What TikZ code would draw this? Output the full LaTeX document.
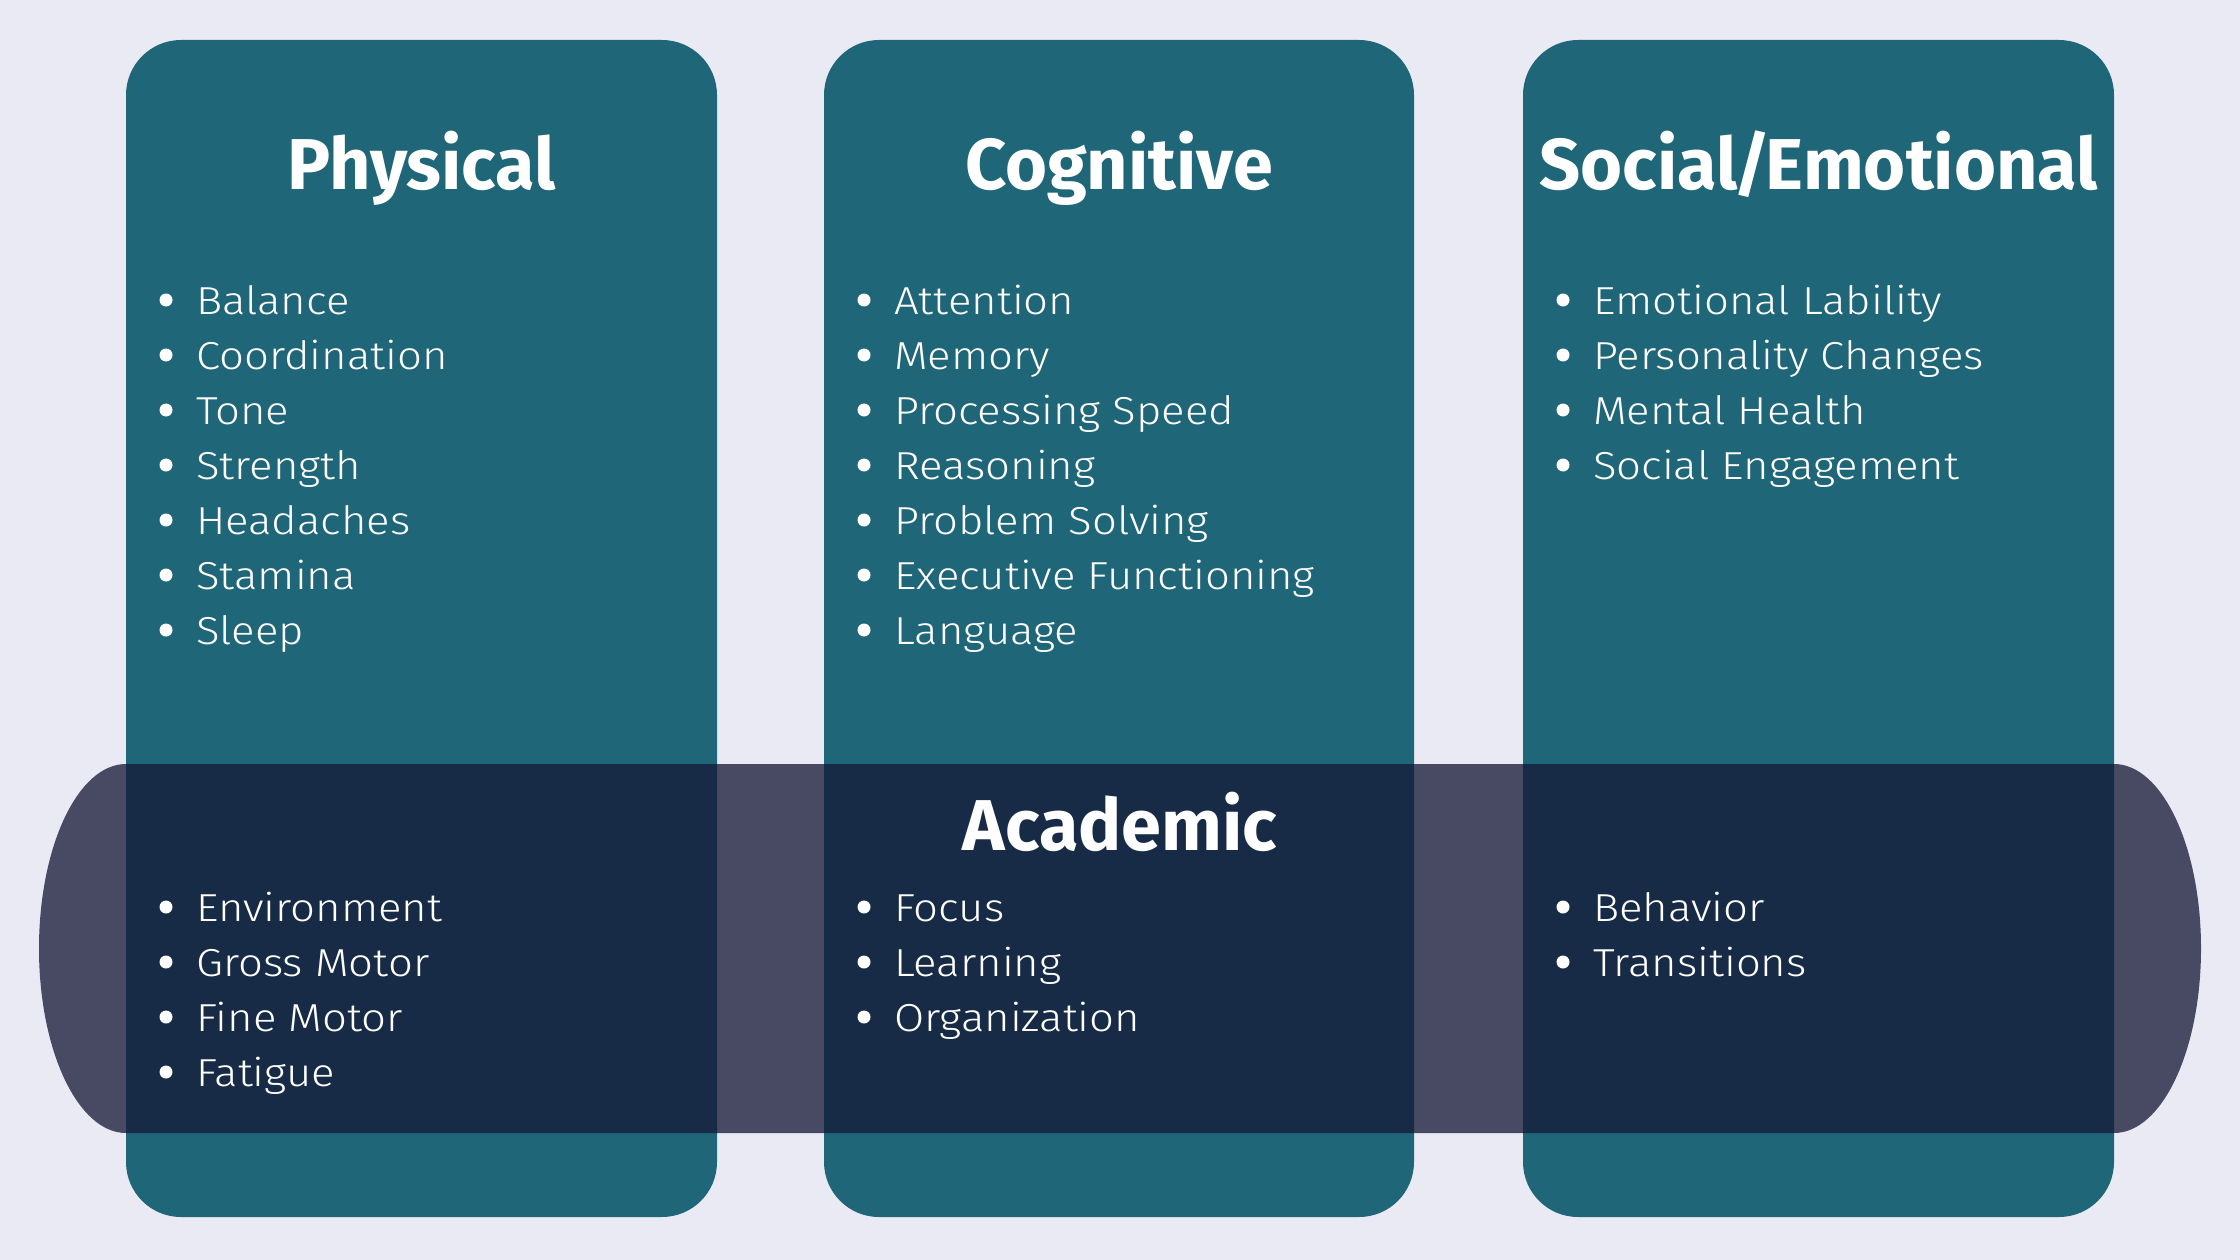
\documentclass[tikz,border=0pt]{standalone}
\usepackage{fontspec}
\setmainfont{Fira Sans}
\newfontfamily\itemfont{Fira Sans Light}[FakeStretch=1.12]
\definecolor{bgc}{RGB}{234,234,245}
\definecolor{tealc}{RGB}{31,102,121}
\definecolor{bandc}{RGB}{22,26,55}
\tikzset{
  colbox/.style={fill=tealc, draw=none, rounded corners=55pt},
  band/.style={fill=bandc, fill opacity=0.77, draw=none},
  title/.style={text=white, font=\bfseries\fontsize{72}{80}\selectfont, anchor=base, inner sep=0pt},
  item/.style={text=white, font=\itemfont\fontsize{39}{46}\selectfont, anchor=base west, inner sep=0pt},
  dot/.style={fill=white}
}
\newcommand{\itemlist}[4]{%
  \foreach \t [count=\i from 0] in {#4} {
    \fill[dot] (#1+40,#2-14+\i*55) circle[radius=6.5pt];
    \node[item] (#3\i) at (#1+70,#2+\i*55) {\t};
  }%
}
\begin{document}
\begin{tikzpicture}[x=1pt,y=-1pt]
\useasboundingbox (0,0) rectangle (2240,1260);
\fill[bgc] (0,0) rectangle (2240,1260);
% columns
\path[colbox] (126,40) rectangle (717,1217);
\path[colbox] (824,40) rectangle (1414,1217);
\path[colbox] (1523,40) rectangle (2114,1217);
% band
\path[band] (126,764) -- (2114,764)
  arc[start angle=90, end angle=-90, x radius=87pt, y radius=184.5pt]
  -- (126,1133)
  arc[start angle=270, end angle=90, x radius=87pt, y radius=184.5pt] -- cycle;
% titles
\node[title] (tphys) at (421.5,190) {Physical};
\node[title] (tcog) at (1119,190) {Cognitive};
\node[title] (tsoc) at (1818.5,190) {Social\kern-4pt/\kern-5pt Emotional};
\node[title] (tacad) at (1120,850) {Academic};
% item lists
\itemlist{126}{314}{p}{Balance,Coordination,Tone,Strength,Headaches,Stamina,Sleep}
\itemlist{824}{314}{c}{Attention,Memory,Processing Speed,Reasoning,Problem Solving,Executive Functioning,Language}
\itemlist{1523}{314}{s}{Emotional Lability,Personality Changes,Mental Health,Social Engagement}
\itemlist{126}{921}{ap}{Environment,Gross Motor,Fine Motor,Fatigue}
\itemlist{824}{921}{ac}{Focus,Learning,Organization}
\itemlist{1523}{921}{as}{Behavior,Transitions}
\end{tikzpicture}
\end{document}
